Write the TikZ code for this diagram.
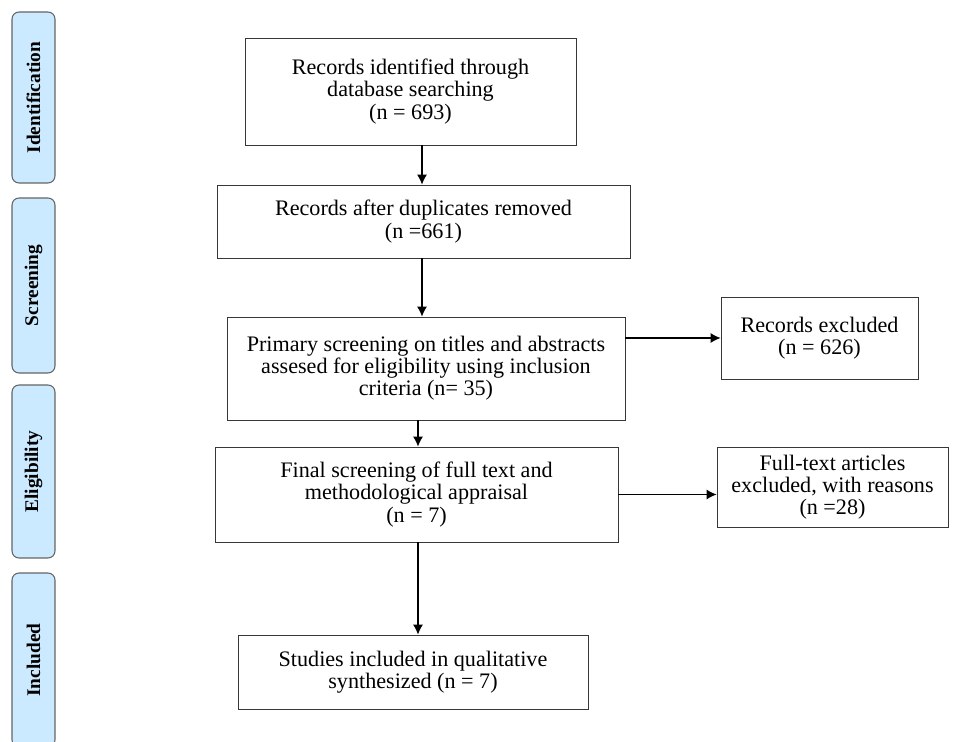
\documentclass[tikz,border=0pt]{standalone}
\usepackage{fontspec}
\setmainfont{Liberation Serif}
\usetikzlibrary{arrows.meta}
\definecolor{tabblue}{RGB}{204,234,255}
\definecolor{tabline}{RGB}{100,100,100}
\definecolor{boxline}{RGB}{55,55,55}

\begin{document}
\begin{tikzpicture}[
x=0.02cm, y=-0.02cm,
>={Latex[length=2mm,width=2mm]},
font=\fontsize{12.6}{12.6}\selectfont,
box/.style={draw=boxline, line width=0.5pt, align=center, inner sep=0pt},
tab/.style={draw=tabline, fill=tabblue, line width=0.6pt, rounded corners=4pt, rotate=90, minimum height=0.86cm, font=\fontsize{11}{12.5}\selectfont\bfseries},
arrow/.style={draw,->,line width=0.6pt}
]
\useasboundingbox (0,0) rectangle (960,742);

% stage tabs
\node[tab, minimum width=3.42cm] (tabident) at (33.5,97.5) {Identification};
\node[tab, minimum width=3.5cm] (tabscreen) at (33.5,285.5) {Screening};
\node[tab, minimum width=3.46cm] (tabelig) at (33.5,471.5) {Eligibility};
\node[tab, minimum width=3.48cm] (tabincl) at (33.5,660) {Included};

% main column
\node[box, minimum width=6.62cm, minimum height=2.14cm] (records) at (410.5,91.5) {Records identified through\\database searching\\(n = 693)};
\node[box, minimum width=8.26cm, minimum height=1.46cm] (dedup) at (423.5,221.5) {Records after duplicates removed\\(n =661)};
\node[box, minimum width=7.96cm, minimum height=2.06cm] (screen) at (426,368.5) {Primary screening on titles and abstracts\\assesed for eligibility using inclusion\\criteria (n= 35)};
\node[box, minimum width=8.06cm, minimum height=1.9cm] (final) at (416.5,494.5) {Final screening of full text and\\methodological appraisal\\(n = 7)};
\node[box, minimum width=7cm, minimum height=1.48cm] (studies) at (413,672) {Studies included in qualitative\\synthesized (n = 7)};

% excluded
\node[box, minimum width=3.94cm, minimum height=1.64cm] (excl) at (819.5,338) {Records excluded\\(n = 626)};
\node[box, minimum width=4.62cm, minimum height=1.6cm] (exclfull) at (832.5,487) {Full-text articles\\excluded, with reasons\\(n =28)};

\coordinate (col1) at (422,0);
\coordinate (col2) at (418,0);

\path[arrow] (records.south -| col1) -- (dedup.north -| col1);
\path[arrow] (dedup.south -| col1) -- (screen.north -| col1);
\path[arrow] (screen.south -| col2) -- (final.north -| col2);
\path[arrow] (final.south -| col2) -- (studies.north -| col2);
\path[arrow] (screen.east |- excl) -- (excl);
\path[arrow] (final.east) -- (final.east -| exclfull.west);

\end{tikzpicture}
\end{document}
